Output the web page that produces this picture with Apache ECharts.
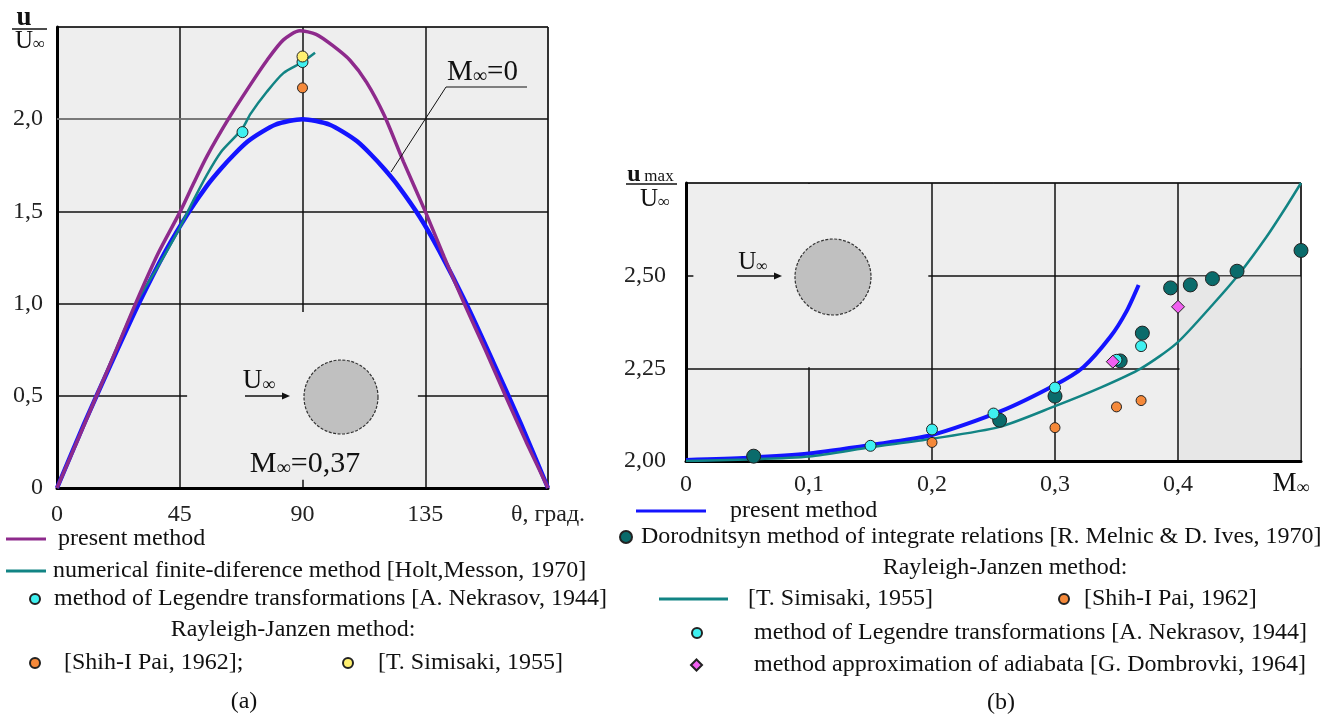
<!DOCTYPE html>
<html><head><meta charset="utf-8">
<script src="https://cdn.jsdelivr.net/npm/echarts@6/dist/echarts.min.js"></script>
<style>html,body{margin:0;padding:0;background:#fff}#c{width:1330px;height:720px}</style>
</head><body><div id="c"></div>
<script>
// ===== (a) u/U∞ vs θ =====
const thetaPresent = [0, 7, 14.5, 22, 28.8, 37, 45.2, 50, 55, 62.8, 70.8, 77, 83, 89, 95, 101, 107.4, 113.5, 120, 127, 135, 142, 149.3, 157, 164.4, 172, 180];
const uPresent     = [0, 0.24, 0.5, 0.76, 1.0, 1.27, 1.5, 1.65, 1.8, 2.0, 2.185, 2.32, 2.43, 2.48, 2.46, 2.4, 2.32, 2.2, 2.02, 1.77, 1.5, 1.25, 1.0, 0.75, 0.5, 0.25, 0];
const thetaM0 = [0, 10, 20, 30, 40, 48.5, 55, 60, 65, 70, 75, 80, 85, 90, 95, 100, 105, 110, 115, 120, 125, 133, 140, 150, 160, 170, 180];
const uM0     = [0, 0.35, 0.68, 1.0, 1.29, 1.5, 1.64, 1.73, 1.81, 1.88, 1.93, 1.97, 1.99, 2.0, 1.99, 1.97, 1.93, 1.88, 1.81, 1.73, 1.64, 1.47, 1.29, 1.0, 0.68, 0.35, 0];
const thetaHolt = [0, 14.5, 29, 37, 44.6, 50, 55, 60, 65, 68, 71, 77, 83, 90, 94.6];
const uHolt     = [0, 0.5, 1.0, 1.2, 1.4, 1.56, 1.7, 1.82, 1.9, 1.95, 2.03, 2.15, 2.25, 2.31, 2.36];
const thetaNekrasovA = [68, 90];
const uNekrasovA     = [1.93, 2.31];
const thetaPaiA = [90];
const uPaiA     = [2.17];
const thetaSimisakiA = [90];
const uSimisakiA     = [2.34];
const leftXTickLabels = ['0', '45', '90', '135', 'θ, град.'];
const leftYTickLabels = ['0', '0,5', '1,0', '1,5', '2,0', ''];

// ===== (b) u_max/U∞ vs M∞ =====
const machPresent = [0, 0.05, 0.1, 0.15, 0.2, 0.255, 0.3, 0.323, 0.345, 0.358, 0.368];
const umaxPresent = [2.003, 2.009, 2.02, 2.043, 2.07, 2.133, 2.205, 2.253, 2.335, 2.403, 2.475];
const machSimisaki = [0, 0.05, 0.1, 0.15, 0.2, 0.255, 0.3, 0.337, 0.37, 0.399, 0.429, 0.45, 0.472, 0.488, 0.5];
const umaxSimisaki = [2.0, 2.004, 2.012, 2.037, 2.06, 2.092, 2.148, 2.198, 2.25, 2.318, 2.425, 2.506, 2.605, 2.686, 2.75];
const machDorod = [0.055, 0.255, 0.3, 0.353, 0.371, 0.394, 0.41, 0.428, 0.448, 0.5];
const umaxDorod = [2.013, 2.11, 2.175, 2.27, 2.345, 2.467, 2.475, 2.492, 2.512, 2.568];
const machNekrasovB = [0.15, 0.2, 0.25, 0.3, 0.35, 0.37];
const umaxNekrasovB = [2.041, 2.085, 2.128, 2.198, 2.273, 2.31];
const machPaiB = [0.2, 0.3, 0.35, 0.37];
const umaxPaiB = [2.05, 2.09, 2.146, 2.163];
const machDombrovski = [0.347, 0.4];
const umaxDombrovski = [2.268, 2.416];
const rightXTickLabels = ['0', '0,1', '0,2', '0,3', '0,4', ''];
const rightYTickLabels = ['2,00', '2,25', '2,50', ''];

const SERIF = '"Liberation Serif", "Times New Roman", serif';
const zip = (xs, ys) => xs.map((x, i) => [x, ys[i]]);

const chart = echarts.init(document.getElementById('c'), null, {renderer: 'canvas'});

const axisBase = {
  axisLine: {show: true, onZero: false, lineStyle: {color: '#000', width: 3}},
  axisTick: {show: false},
  splitLine: {show: true, lineStyle: {color: '#111', width: 1.5}},
  axisLabel: {fontFamily: SERIF, fontSize: 24, color: '#222'}
};
function ax(extra) { return echarts.util.merge(echarts.util.clone(axisBase), extra, true); }

function leg(name, icon, left, cy, w, h, textLeft) {
  return {
    data: [{name: name, icon: icon}],
    left: left, top: cy - 12, itemWidth: w, itemHeight: h, padding: 0,
    selectedMode: false,
    itemStyle: icon === 'rect' ? {borderWidth: 0} : {},
    formatter: n => n.replace(/^b\|/, ''),
    textStyle: {fontFamily: SERIF, fontSize: 24, color: '#111', padding: [0, 0, 0, textLeft - (left + w) - 5]}
  };
}

const scat = (name, xi, xs, ys, size, color, z, symbol) => ({
  name, type: 'scatter', xAxisIndex: xi, yAxisIndex: xi, data: zip(xs, ys),
  symbol: symbol || 'circle', symbolSize: size, z: z,
  itemStyle: {color: color, borderColor: '#222', borderWidth: 1, opacity: 1}
});
const line = (name, xi, xs, ys, color, width, extra) => Object.assign({
  name, type: 'line', xAxisIndex: xi, yAxisIndex: xi, data: zip(xs, ys),
  symbol: 'none', smooth: 0.25, z: 2, color: color,
  itemStyle: {color: color}, lineStyle: {color: color, width: width}
}, extra || {});

const infRich = (big, small) => ({
  a: {fontFamily: SERIF, fontSize: big, color: '#111'},
  b: {fontFamily: SERIF, fontSize: small, color: '#111', verticalAlign: 'bottom'}
});
const txt = (x, y, text, size, extra) => ({type: 'text', x, y, z: 10, style: Object.assign({
  text, font: size + 'px ' + SERIF, fill: '#111', align: 'center', verticalAlign: 'middle'}, extra || {})});
const seg = (x1, y1, x2, y2, w) => ({type: 'line', z: 10, shape: {x1, y1, x2, y2}, style: {stroke: '#111', lineWidth: w || 1.2}});
const head = (x, y) => ({type: 'polygon', z: 10, shape: {points: [[x, y], [x - 8, y - 3.5], [x - 8, y + 3.5]]}, style: {fill: '#111'}});

const option = {
  animation: false,
  backgroundColor: '#ffffff',
  grid: [
    {left: 57, top: 27, width: 491, height: 461, show: true, backgroundColor: '#eeeeee', borderColor: '#444', borderWidth: 1},
    {left: 686, top: 183, width: 615, height: 278, show: true, backgroundColor: '#eeeeee', borderColor: '#333', borderWidth: 1}
  ],
  xAxis: [
    ax({type: 'value', gridIndex: 0, min: 0, max: 180, interval: 45,
        axisLabel: {margin: 15, formatter: v => leftXTickLabels[Math.round(v / 45)]}}),
    ax({type: 'value', gridIndex: 1, min: 0, max: 0.5, interval: 0.1,
        axisLabel: {margin: 12, formatter: v => rightXTickLabels[Math.round(v * 10)]}})
  ],
  yAxis: [
    ax({type: 'value', gridIndex: 0, min: 0, max: 2.5, interval: 0.5,
        axisLabel: {margin: 14, formatter: v => leftYTickLabels[Math.round(v / 0.5)]}}),
    ax({type: 'value', gridIndex: 1, min: 2.0, max: 2.75, interval: 0.25,
        axisLabel: {margin: 20, formatter: v => rightYTickLabels[Math.round((v - 2) / 0.25)]}})
  ],
  legend: [
    leg('present method', 'rect', 6, 539, 40, 3, 58),
    leg('numerical finite-diference method [Holt,Messon, 1970]', 'rect', 6, 571, 40, 3, 53),
    leg('method of Legendre transformations [A. Nekrasov, 1944]', 'circle', 29, 599, 10, 10, 53),
    leg('[Shih-I Pai, 1962];', 'circle', 29, 663, 10, 10, 63),
    leg('[T. Simisaki, 1955]', 'circle', 342, 663, 10, 10, 377),
    leg('b|present method', 'rect', 636, 511, 70, 3, 730),
    leg('Dorodnitsyn method of integrate relations [R. Melnic & D. Ives, 1970]', 'circle', 619, 537, 12, 12, 640),
    leg('b|[T. Simisaki, 1955]', 'rect', 659, 599, 69, 3, 748),
    leg('[Shih-I Pai, 1962]', 'circle', 1058, 599, 10, 10, 1083),
    leg('b|method of Legendre transformations [A. Nekrasov, 1944]', 'circle', 691, 633, 10, 10, 753),
    leg('method approximation of adiabata [G. Dombrovki, 1964]', 'diamond', 690, 665, 11, 11, 753)
  ],
  series: [
    line('a|M0', 0, thetaM0, uM0, '#1414ff', 4.5, {
      markArea: {silent: true, z: 1, itemStyle: {color: '#eeeeee', opacity: 1, borderWidth: 0},
        data: [[{coord: [47.7, 0.045]}, {coord: [132.3, 0.955]}]]},
      markLine: {silent: true, z: 1, symbol: ['none', 'none'], label: {show: false},
        lineStyle: {color: '#8a8a8a', width: 1.5, type: 'solid'},
        data: [[{coord: [0, 2.0]}, {coord: [90, 2.0]}]]}
    }),
    line('numerical finite-diference method [Holt,Messon, 1970]', 0, thetaHolt, uHolt, '#128484', 2.5),
    line('present method', 0, thetaPresent, uPresent, '#8e2a8c', 3.5),
    scat('method of Legendre transformations [A. Nekrasov, 1944]', 0, thetaNekrasovA, uNekrasovA, 11, '#3ff0f0', 5),
    scat('[Shih-I Pai, 1962];', 0, thetaPaiA, uPaiA, 10, '#f5893a', 5),
    scat('[T. Simisaki, 1955]', 0, thetaSimisakiA, uSimisakiA, 11, '#fff070', 6),

    line('b|present method', 1, machPresent, umaxPresent, '#1414ff', 4, {
      markArea: {silent: true, z: 1, itemStyle: {opacity: 1, borderWidth: 0},
        data: [
          [{coord: [0.006, 2.253], itemStyle: {color: '#eeeeee'}}, {coord: [0.197, 2.747]}],
          [{coord: [0.4012, 2.0025], itemStyle: {color: '#e7e7e7'}}, {coord: [0.4995, 2.4975]}]
        ]}
    }),
    line('b|[T. Simisaki, 1955]', 1, machSimisaki, umaxSimisaki, '#128484', 2.5),
    scat('Dorodnitsyn method of integrate relations [R. Melnic & D. Ives, 1970]', 1, machDorod, umaxDorod, 14, '#0a6b6b', 4),
    scat('[Shih-I Pai, 1962]', 1, machPaiB, umaxPaiB, 10, '#f5893a', 5),
    scat('b|method of Legendre transformations [A. Nekrasov, 1944]', 1, machNekrasovB, umaxNekrasovB, 11, '#3ff0f0', 5),
    scat('method approximation of adiabata [G. Dombrovki, 1964]', 1, machDombrovski, umaxDombrovski, 13, '#f060f0', 6, 'diamond')
  ],
  graphic: [
    // (a) axis title u / U∞
    txt(24, 18, 'u', 27, {font: 'bold 27px ' + SERIF}),
    seg(12, 29, 47, 29, 1.5),
    txt(30, 41, '{a|U}{b|∞}', 25, {rich: infRich(25, 17)}),
    // (b) axis title u_max / U∞
    txt(634, 175, 'u', 24, {font: 'bold 24px ' + SERIF}),
    txt(659, 177, 'max', 17),
    seg(626, 184, 677, 184, 1.5),
    txt(655, 199, '{a|U}{b|∞}', 25, {rich: infRich(25, 17)}),
    // (b) x-axis title
    txt(1291, 484, '{a|M}{b|∞}', 27, {rich: infRich(27, 18)}),
    // (a) inset
    {type: 'circle', z: 10, shape: {cx: 341, cy: 397, r: 37}, style: {fill: '#c0c0c0', stroke: '#333', lineWidth: 1.2, lineDash: [3, 1.5]}},
    txt(259, 381, '{a|U}{b|∞}', 27, {rich: infRich(27, 18)}),
    seg(245, 396, 284, 396, 1.3), head(290, 396),
    txt(305, 464, '{a|M}{b|∞}{a|=0,37}', 30, {rich: infRich(30, 20)}),
    // M∞=0 annotation
    txt(447, 72, '{a|M}{b|∞}{a|=0}', 29, {align: 'left', rich: infRich(29, 20)}),
    {type: 'polyline', z: 10, shape: {points: [[391, 172], [446, 87], [527, 87]]}, style: {stroke: '#111', lineWidth: 1, fill: null}},
    // (b) inset
    {type: 'circle', z: 10, shape: {cx: 833, cy: 277, r: 38}, style: {fill: '#c0c0c0', stroke: '#333', lineWidth: 1.2, lineDash: [3, 1.5]}},
    txt(753, 262, '{a|U}{b|∞}', 25, {rich: infRich(25, 16)}),
    seg(737, 276, 776, 276, 1.3), head(782, 276),
    // legend headers and captions
    txt(293, 630, 'Rayleigh-Janzen method:', 24),
    txt(1005, 568, 'Rayleigh-Janzen method:', 24),
    txt(244, 702, '(a)', 24),
    txt(1001, 703, '(b)', 24)
  ]
};
chart.setOption(option);
</script>
</body></html>
